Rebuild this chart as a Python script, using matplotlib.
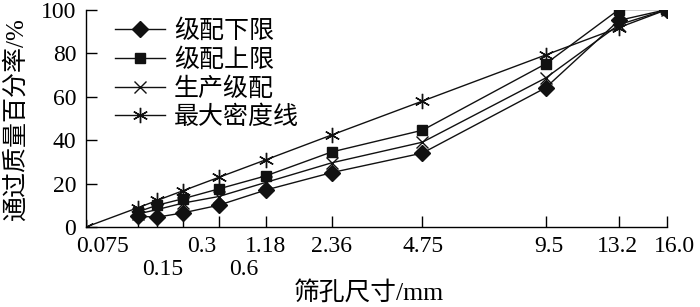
import numpy as np
import matplotlib.pyplot as plt
from matplotlib.transforms import blended_transform_factory

plt.rcParams['font.family'] = ['Liberation Serif', 'Noto Sans CJK SC']
plt.rcParams['axes.unicode_minus'] = False

# sieve sizes (mm) and passing percentages (%)
sizes = [0.075, 0.15, 0.3, 0.6, 1.18, 2.36, 4.75, 9.5, 13.2, 16.0]
size_labels = ['0.075', '0.15', '0.3', '0.6', '1.18', '2.36', '4.75', '9.5', '13.2', '16.0']
lower = [5, 4.5, 6.5, 10, 17, 25, 34, 64, 95, 100]
upper = [7, 10, 13, 17.5, 23.5, 34.5, 44.5, 75, 100, 100]
production = [6, 8, 11, 14, 20.5, 29.5, 39, 68.5, 93, 100]
maxd_sizes = [0] + sizes
maxd = [0, 8.9, 12.2, 16.7, 22.8, 30.9, 42.3, 57.9, 79.1, 91.7, 100]

# label placement (data x of label centre, row)
label_x = [0.10, 0.461, 0.695, 0.946, 1.075, 1.473, 2.02, 2.772, 3.186, 3.527]
label_row = [0, 1, 0, 1, 0, 0, 0, 0, 0, 0]

p = 0.45
xs = np.array(sizes) ** p

fig = plt.figure(figsize=(7.0, 3.07), dpi=100)
ax = fig.add_axes([0.1229, 0.2606, 0.953 - 0.1229, 0.969 - 0.2606])

kw = dict(color='#111111', lw=1.0)
ax.plot(xs, lower, marker='D', ms=8, label='级配下限', **kw)
ax.plot(xs, upper, marker='s', ms=7.5, label='级配上限', **kw)
ax.plot(xs, production, marker='x', ms=9, mew=1.0, label='生产级配', **kw)
ax.plot(np.array(maxd_sizes) ** p, maxd, marker=(6, 2, 0), ms=11, mew=1.0,
        label='最大密度线', **kw)

ax.set_xlim(0, 16.0 ** p)
ax.set_ylim(0, 100)
ax.set_xticks(xs)
ax.set_xticklabels([])
ax.set_yticks([0, 20, 40, 60, 80, 100])
ax.tick_params(axis='both', direction='in', length=8, width=1.0, labelsize=17)
ax.tick_params(axis='y', pad=7)
for s in ['top', 'right']:
    ax.spines[s].set_visible(False)
for s in ['left', 'bottom']:
    ax.spines[s].set_linewidth(1.0)

tr = blended_transform_factory(ax.transData, ax.transAxes)
for lx, lab, row in zip(label_x, size_labels, label_row):
    ax.text(lx, -0.04 - 0.105 * row, lab, transform=tr, ha='center', va='top',
            fontsize=17)

fig.text(0.527, 0.046, '筛孔尺寸/mm', ha='center', va='center', fontsize=18.5)
fig.text(0.022, 0.609, '通过质量百分率/%', ha='center', va='center',
         rotation=90, fontsize=18)

ax.legend(loc='upper left', bbox_to_anchor=(0.02, 1.035), frameon=False,
          fontsize=18, handlelength=2.0, handletextpad=0.35, labelspacing=0.2,
          borderpad=0.2)

fig.savefig('out.png', dpi=100)
